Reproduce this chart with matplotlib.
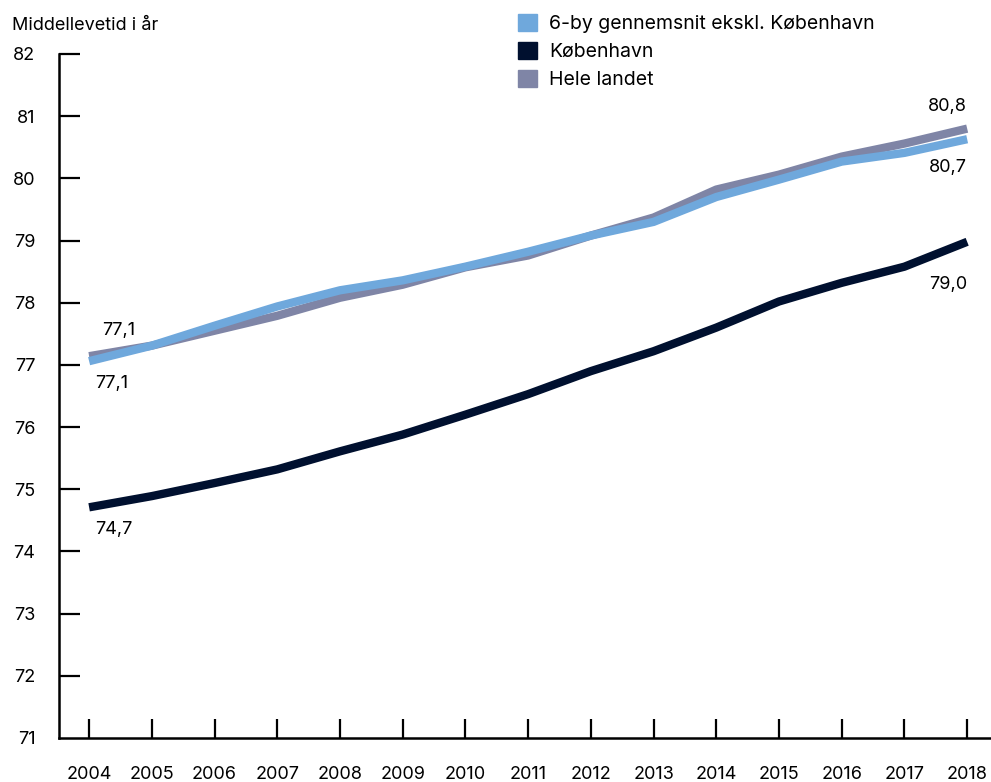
import matplotlib
matplotlib.use("Agg")
import matplotlib.pyplot as plt
from matplotlib.patches import Patch

plt.rcParams['font.family'] = ['Inter', 'DejaVu Sans']

years = list(range(2004, 2019))
seksby = [77.06, 77.31, 77.63, 77.94, 78.20, 78.36, 78.58, 78.82, 79.08, 79.30, 79.70, 79.98, 80.27, 80.41, 80.63]
kbh = [74.71, 74.89, 75.10, 75.32, 75.61, 75.88, 76.20, 76.53, 76.90, 77.22, 77.60, 78.02, 78.32, 78.58, 78.98]
hele = [77.14, 77.31, 77.55, 77.79, 78.08, 78.29, 78.57, 78.76, 79.08, 79.37, 79.82, 80.06, 80.35, 80.56, 80.80]

c_blue = '#6fa8dc'
c_dark = '#00102f'
c_grey = '#7f85a6'

fig = plt.figure(figsize=(9.91, 7.82), dpi=100)
ax = fig.add_axes([59 / 991, 44 / 782, 1 - 59 / 991, (738 - 54) / 782])

ax.plot(years, hele, color=c_grey, lw=6, solid_capstyle='butt', solid_joinstyle='round')
ax.plot(years, seksby, color=c_blue, lw=6, solid_capstyle='butt', solid_joinstyle='round')
ax.plot(years, kbh, color=c_dark, lw=6, solid_capstyle='butt', solid_joinstyle='round')

ax.set_xlim(2003.52, 2018.38)
ax.set_ylim(71, 82)
ax.set_xticks(years)
ax.set_yticks(range(71, 83))

for s in ['top', 'right']:
    ax.spines[s].set_visible(False)
for s in ['left', 'bottom']:
    ax.spines[s].set_linewidth(1.8)

fs = 13
ax.tick_params(axis='y', direction='in', length=15, width=1.6, pad=17, labelsize=fs)
ax.tick_params(axis='x', direction='in', length=14, width=1.6, pad=20, labelsize=fs)
ax.yaxis.get_major_ticks()[0].tick1line.set_visible(False)

fig.text(12 / 991, 1 - 25 / 782, 'Middellevetid i år', fontsize=fs, va='center', ha='left')

# value labels
ax.text(2004.2, 77.55, '77,1', fontsize=fs, ha='left', va='center')
ax.text(2004.1, 76.7, '77,1', fontsize=fs, ha='left', va='center')
ax.text(2004.1, 74.35, '74,7', fontsize=fs, ha='left', va='center')
ax.text(2018.0, 81.15, '80,8', fontsize=fs, ha='right', va='center')
ax.text(2018.0, 80.18, '80,7', fontsize=fs, ha='right', va='center')
ax.text(2018.0, 78.3, '79,0', fontsize=fs, ha='right', va='center')

handles = [Patch(color=c_blue), Patch(color=c_dark), Patch(color=c_grey)]
labels = ['6-by gennemsnit ekskl. København', 'København', 'Hele landet']
fig.legend(handles, labels, loc='upper left', bbox_to_anchor=(510 / 991, 1 - 6 / 782),
           frameon=False, fontsize=14, handlelength=1.0, handleheight=1.0,
           handletextpad=0.6, labelspacing=0.45, borderaxespad=0)

fig.savefig('out.png', dpi=100)
